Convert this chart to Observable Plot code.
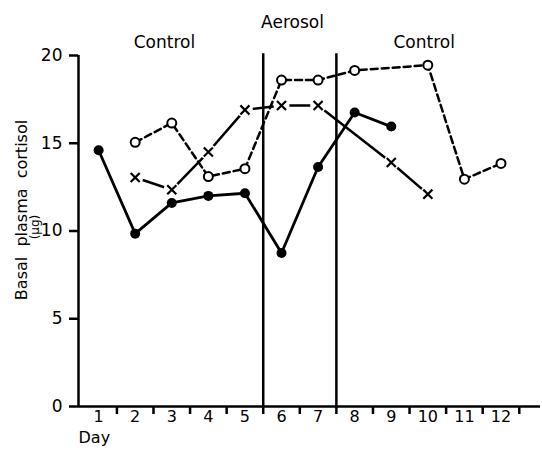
<!DOCTYPE html>
<html><head><meta charset="utf-8">
<script src="https://cdn.jsdelivr.net/npm/d3@7"></script>
<script src="https://cdn.jsdelivr.net/npm/@observablehq/plot@0.6"></script>
<style>body{margin:0;background:#fff}</style>
</head><body><div id="chart"></div>
<script>
const days = [1,2,3,4,5,6,7,8,9,10,11,12];
const solidDays = [1,2,3,4,5,6,7,8,9];
const solidValues = [14.6,9.85,11.6,12.0,12.15,8.75,13.65,16.75,15.95];
const openDays = [2,3,4,5,6,7,8,10,11,12];
const openValues = [15.05,16.15,13.1,13.55,18.6,18.6,19.15,19.45,12.95,13.85];
const crossDays = [2,3,4,5,6,7,9,10];
const crossValues = [13.05,12.35,14.5,16.9,17.15,17.15,13.9,12.1];
const yTicks = [0,5,10,15,20];
const dayBoundaries = days.map(d => d + 0.5);
const phaseBoundaries = [5.5,7.5];
const phaseLabels = ["Control","Aerosol","Control"];
const phaseLabelDays = [2.8,6.3,9.9];
const yLabel = "Basal\u00a0\u00a0plasma\u00a0\u00a0cortisol";
const yUnit = "(\u03bcg)";
const xLabel = "Day";

const solid = solidDays.map((d,i)=>({day:d, value:solidValues[i]}));
const open = openDays.map((d,i)=>({day:d, value:openValues[i]}));
const cross = crossDays.map((d,i)=>({day:d, value:crossValues[i]}));
const phases = phaseLabels.map((l,i)=>({label:l, day:phaseLabelDays[i]}));

const chart = Plot.plot({
  width:542, height:451,
  marginTop:55, marginBottom:45, marginLeft:78, marginRight:2,
  x:{domain:[0.45,13.08]},
  y:{domain:[0,20]},
  style:{fontFamily:"DejaVu Sans", fontSize:"16px", color:"black", background:"white"},
  marks:[
    Plot.ruleY([0], {strokeWidth:2.5}),
    Plot.ruleX([0.45], {y1:0, y2:20, strokeWidth:2.5}),
    Plot.axisY({ticks:yTicks, tickSize:9, tickPadding:7, strokeWidth:2.5, fontSize:17, label:null}),
    Plot.axisX({ticks:dayBoundaries, tickFormat:()=>"", tickSize:8, strokeWidth:2.5, label:null}),
    Plot.axisX({ticks:days, tickSize:0, tickPadding:4, fontSize:16, label:null}),
    Plot.ruleX(phaseBoundaries, {y1:0, y2:20.1, strokeWidth:2.5}),
    Plot.line(open, {x:"day", y:"value", strokeWidth:2.5, strokeDasharray:"7,4"}),
    Plot.line(cross, {x:"day", y:"value", strokeWidth:2.5}),
    Plot.line(solid, {x:"day", y:"value", strokeWidth:2.8}),
    Plot.dot(cross, {x:"day", y:"value", r:8, fill:"white", stroke:"none"}),
    Plot.dot(cross, {x:"day", y:"value", symbol:"times", r:4.2, stroke:"black", strokeWidth:2.2}),
    Plot.dot(open, {x:"day", y:"value", r:4.5, fill:"white", stroke:"black", strokeWidth:2}),
    Plot.dot(solid, {x:"day", y:"value", r:5, fill:"black", stroke:"none"}),
    Plot.text(phases.filter(p=>p.label==="Control"), {x:"day", y:20, text:"label", fontSize:17, dy:-13}),
    Plot.text(phases.filter(p=>p.label==="Aerosol"), {x:"day", y:20, text:"label", fontSize:17, dy:-33}),
    Plot.text([yLabel], {frameAnchor:"left", textAnchor:"middle", rotate:-90, dx:-57, dy:-21, fontSize:16}),
    Plot.text([yUnit], {frameAnchor:"left", textAnchor:"middle", rotate:-90, dx:-43, dy:-4, fontSize:12}),
    Plot.text([xLabel], {frameAnchor:"bottom-left", textAnchor:"start", dy:36, fontSize:16}),
  ]
});
document.getElementById("chart").append(chart);
</script></body></html>
